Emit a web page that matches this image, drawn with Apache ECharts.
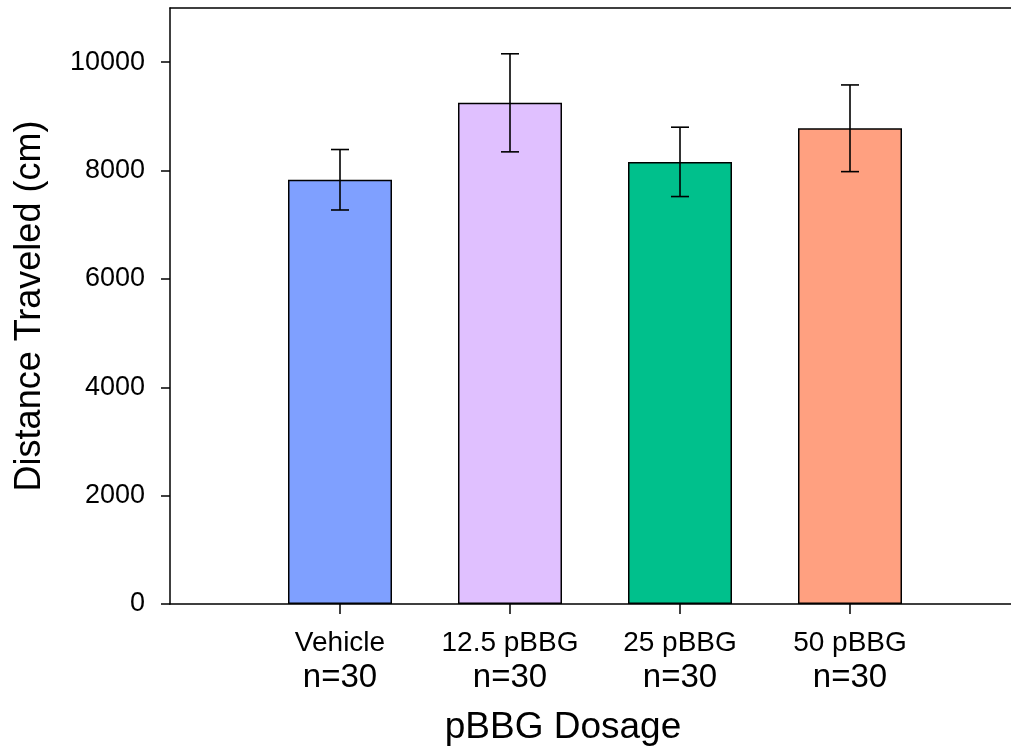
<!DOCTYPE html>
<html>
<head>
<meta charset="utf-8">
<script src="https://cdn.jsdelivr.net/npm/echarts@6/dist/echarts.min.js"></script>
<style>
  html, body { margin: 0; padding: 0; background: #fff; }
  #chart { width: 1011px; height: 749px; }
</style>
</head>
<body>
<div id="chart"></div>
<script>
// 數據
const categories = ['Vehicle', '12.5 pBBG', '25 pBBG', '50 pBBG'];
const nLabels = ['n=30', 'n=30', 'n=30', 'n=30'];
const means = [7830, 9250, 8160, 8780];
const errors = [558, 905, 640, 800];
const yTicks = [0, 2000, 4000, 6000, 8000, 10000];
const barColors = ['#7fa0ff', '#e0c0ff', '#00c08c', '#ffa080'];

const FONT = "'Liberation Sans', Arial, sans-serif";

// 前後各留一個空位，讓類目中心落在 1..4
const axisData = ['', ...categories, ' '];

const chart = echarts.init(document.getElementById('chart'), null, { renderer: 'canvas' });

const lineStyle = { color: '#000', width: 1.5 };

const option = {
  animation: false,
  grid: { left: 170, top: 8, width: 850, bottom: 145, outerBoundsMode: 'none', containLabel: false },
  xAxis: [
    {
      type: 'category',
      data: axisData,
      boundaryGap: false,
      axisLine: { lineStyle },
      axisTick: {
        length: 10,
        lineStyle,
        interval: (i) => i >= 1 && i <= categories.length,
      },
      axisLabel: {
        margin: 22,
        interval: 0,
        formatter: (value, idx) => {
          if (idx < 1 || idx > categories.length) return '';
          return `{a|${value}}\n{b|${nLabels[idx - 1]}}`;
        },
        rich: {
          a: { fontFamily: FONT, fontSize: 28, color: '#000', lineHeight: 34 },
          b: { fontFamily: FONT, fontSize: 33, color: '#000', lineHeight: 36 },
        },
      },
      splitLine: { show: false },
    },
    {
      type: 'category',
      data: axisData,
      boundaryGap: false,
      position: 'top',
      axisLine: { lineStyle },
      axisTick: { show: false },
      axisLabel: { show: false },
    },
  ],
  yAxis: {
    type: 'value',
    min: 0,
    max: 11000,
    interval: 2000,
    name: 'Distance Traveled (cm)',
    nameLocation: 'middle',
    nameGap: 122,
    nameTextStyle: { fontFamily: FONT, fontSize: 36, color: '#000' },
    axisLine: { show: true, lineStyle },
    axisTick: { show: true, length: 9, lineStyle, customValues: yTicks },
    axisLabel: {
      margin: 25,
      fontFamily: FONT,
      fontSize: 27,
      color: '#000',
      customValues: yTicks,
      formatter: (v) => String(v),
    },
    splitLine: { show: false },
  },
  graphic: [
    {
      type: 'text',
      x: 563,
      y: 728,
      style: {
        text: 'pBBG Dosage',
        fontFamily: FONT,
        fontSize: 37,
        fill: '#000',
        textAlign: 'center',
        textVerticalAlign: 'middle',
      },
    },
  ],
  series: [
    {
      type: 'bar',
      barWidth: 104,
      data: categories.map((c, i) => ({
        value: [c, means[i]],
        itemStyle: { color: barColors[i], borderColor: '#000', borderWidth: 1.5 },
      })),
    },
    {
      // 誤差線
      type: 'custom',
      data: categories.map((c, i) => [c, means[i] - errors[i], means[i] + errors[i]]),
      renderItem: function (params, api) {
        const x = api.value(0);
        const lo = api.coord([x, api.value(1)]);
        const hi = api.coord([x, api.value(2)]);
        const half = 9;
        const style = { stroke: '#000', lineWidth: 1.6 };
        return {
          type: 'group',
          children: [
            { type: 'line', shape: { x1: lo[0], y1: lo[1], x2: hi[0], y2: hi[1] }, style },
            { type: 'line', shape: { x1: hi[0] - half, y1: hi[1], x2: hi[0] + half, y2: hi[1] }, style },
            { type: 'line', shape: { x1: lo[0] - half, y1: lo[1], x2: lo[0] + half, y2: lo[1] }, style },
          ],
        };
      },
      z: 10,
    },
  ],
};

chart.setOption(option);
</script>
</body>
</html>
